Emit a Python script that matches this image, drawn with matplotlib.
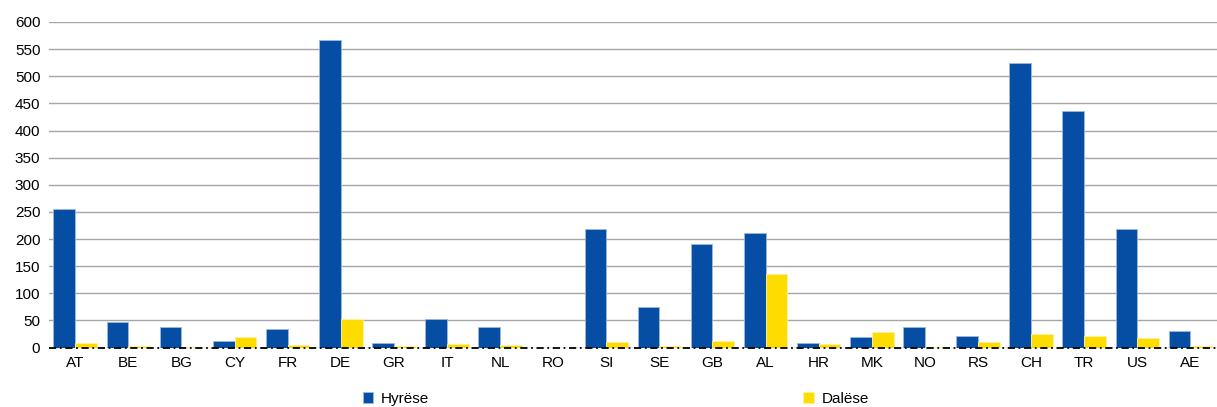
import matplotlib.pyplot as plt
import numpy as np

countries = ['AT', 'BE', 'BG', 'CY', 'FR', 'DE', 'GR', 'IT', 'NL', 'RO', 'SI', 'SE',
             'GB', 'AL', 'HR', 'MK', 'NO', 'RS', 'CH', 'TR', 'US', 'AE']
hyrese = [255, 47, 38, 12, 35, 567, 8, 53, 37, 0, 219, 75,
          190, 211, 8, 20, 37, 22, 524, 436, 219, 30]
dalese = [8, 3, 1, 19, 5, 53, 2, 6, 5, 0, 10, 2,
          12, 136, 6, 28, 1, 10, 25, 21, 17, 2]

blue = '#054EA4'
yellow = '#FFDC00'

plt.rcParams['font.family'] = ['Liberation Sans', 'DejaVu Sans']

fig = plt.figure(figsize=(12.17, 4.07), dpi=100)
ax = fig.add_axes([0.04, 0.146, 0.96, 0.8])

x = np.arange(len(countries))
w = 0.41
ax.bar(x - w / 2, hyrese, w, color=blue, edgecolor='#9DB8DD', linewidth=0.6,
       label='Hyrëse', zorder=3)
ax.bar(x + w / 2, dalese, w, color=yellow, edgecolor='#FFF0A0', linewidth=0.6,
       label='Dalëse', zorder=3)

ax.set_xlim(-0.5, len(countries) - 0.5)
ax.set_ylim(0, 600)
ax.set_yticks(range(0, 601, 50))
ax.set_xticks(x)
ax.set_xticklabels(countries)
ax.tick_params(axis='both', length=0, labelsize=11, colors='black')
ax.tick_params(axis='x', pad=6)
ax.tick_params(axis='y', pad=6)
ax.yaxis.grid(True, color='#A6A6A6', linewidth=1)
ax.set_axisbelow(True)
for s in ax.spines.values():
    s.set_visible(False)
ax.axhline(0, color='black', linewidth=1.3, linestyle=(0, (4, 2, 1, 2)),
           zorder=4, clip_on=False)

fig.legend(loc='center', bbox_to_anchor=(0.506, 0.02), ncol=2, frameon=False,
           fontsize=11, handlelength=0.7, handleheight=0.7, handletextpad=0.5,
           columnspacing=24.5)

fig.savefig('out.png', dpi=100)
